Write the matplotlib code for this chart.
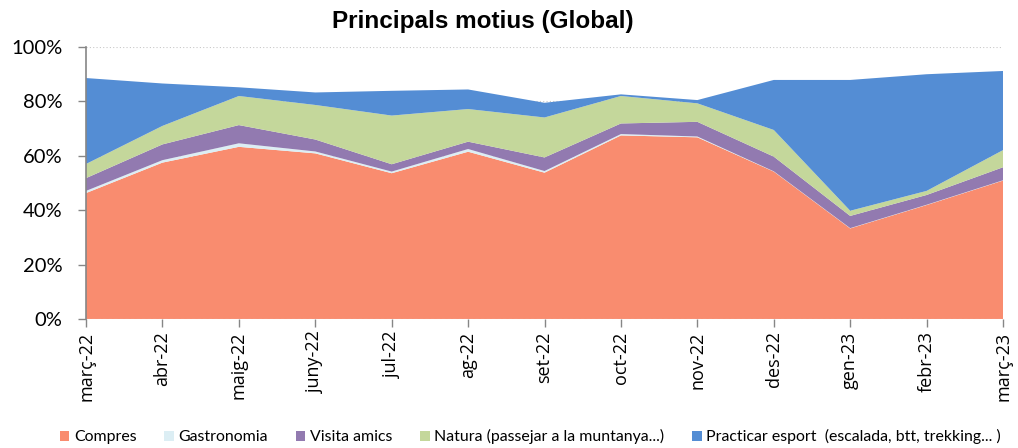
import numpy as np
import matplotlib.pyplot as plt
from matplotlib.patches import Patch

months = ["març-22", "abr-22", "maig-22", "juny-22", "jul-22", "ag-22", "set-22",
          "oct-22", "nov-22", "des-22", "gen-23", "febr-23", "març-23"]

compres = [46.3, 57.5, 63.3, 60.9, 53.6, 61.5, 53.8, 67.5, 66.8, 54.2, 33.3, 41.9, 50.9]
gastronomia = [0.8, 0.9, 1.3, 0.7, 0.6, 1.0, 0.6, 0.5, 0.3, 0.1, 0.1, 0.1, 0.1]
visita = [4.7, 5.8, 6.7, 4.4, 2.7, 2.7, 5.0, 3.9, 5.4, 5.4, 4.5, 3.6, 4.8]
natura = [5.2, 6.8, 10.7, 12.7, 17.9, 12.0, 14.7, 10.1, 6.8, 9.8, 1.9, 1.5, 6.3]
esport = [31.6, 15.6, 3.2, 4.6, 9.1, 7.2, 5.4, 0.6, 1.2, 18.4, 48.1, 42.9, 29.1]

labels = ["Compres", "Gastronomia", "Visita amics",
          "Natura (passejar a la muntanya...)",
          "Practicar esport  (escalada, btt, trekking... )"]
colors = ["#F98C6F", "#DCEEF4", "#927AB0", "#C4D79B", "#548DD4"]

fig = plt.figure(figsize=(10.18, 4.48), dpi=100)
ax = fig.add_axes([0.0845, 0.288, 0.9008, 0.607])

x = np.arange(len(months))
ax.stackplot(x, np.array([compres, gastronomia, visita, natura, esport]) / 100,
             colors=colors, zorder=2)

ax.set_xlim(0, len(months) - 1)
ax.set_ylim(0, 1)
ax.set_yticks(np.linspace(0, 1, 6))
ax.set_yticklabels([f"{int(v)}%" for v in np.linspace(0, 100, 6)],
                   fontsize=14.5, family="Lato")
ax.set_xticks(x)
ax.set_xticklabels(months, rotation=90, fontsize=13, family="Open Sans")

ax.grid(axis="y", color="#c8c8c8", ls=(0, (1, 2)), lw=0.8, zorder=0)
ax.axhline(0, color="#d0d0d0", ls=(0, (3, 2)), lw=0.8, zorder=3)
for s in ["top", "right", "bottom"]:
    ax.spines[s].set_visible(False)
ax.spines["left"].set_color("#868686")
ax.spines["left"].set_linewidth(1.2)
ax.tick_params(axis="both", color="#868686", length=6, width=1)
ax.tick_params(axis="y", pad=11)
ax.tick_params(axis="x", pad=3)

fig.text(0.474, 0.953, "Principals motius (Global)", fontsize=17.5, fontweight="bold",
         family="Liberation Sans", ha="center", va="center")

handles = [Patch(facecolor=c, label=l) for c, l in zip(colors, labels)]
fig.legend(handles=handles, loc="center", bbox_to_anchor=(0.521, 0.025), ncol=5,
           frameon=False, prop={"family": "Lato", "size": 11.4},
           handlelength=0.6, handleheight=0.6, handletextpad=0.3, columnspacing=1.75)

fig.savefig("out.png", dpi=100)
